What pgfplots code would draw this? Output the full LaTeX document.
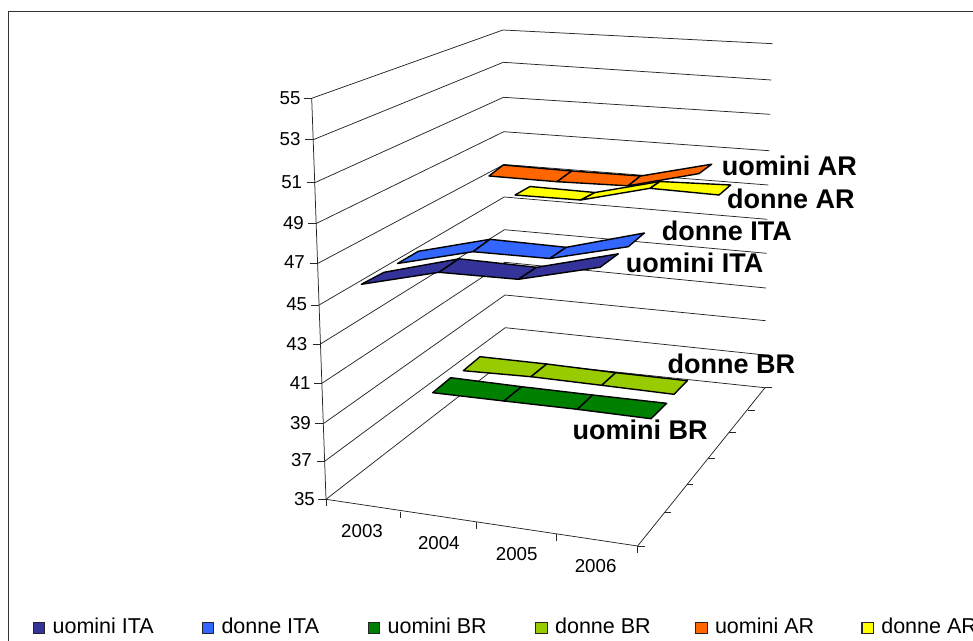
\documentclass[border=0pt]{standalone}
\usepackage{fontspec}
\setmainfont{Liberation Sans}
\usepackage{pgfplots}
\pgfplotsset{compat=1.18}
\definecolor{cnavy}{HTML}{333399}
\definecolor{cblue}{HTML}{3366FF}
\definecolor{cgreen}{HTML}{008000}
\definecolor{clime}{HTML}{99CC00}
\definecolor{corange}{HTML}{FF6600}
\definecolor{cyellow}{HTML}{FFFF00}
\pgfplotsset{
  grid line/.style={black!85, line width=0.75pt, forget plot, mark=none},
  bar seg/.style={fill=#1, draw=black, line width=1.4pt, line join=round, forget plot, mark=none},
  swatch/.style={legend image code/.code={
     \draw[fill=#1, draw=black!85, line width=1.2pt] (0pt,-7pt) rectangle (11.5pt,4.5pt);
     \path[draw=none] (0pt,0pt) -- (19.3pt,0pt);}},
}
\newcommand{\ylab}[3]{\node[anchor=base east, inner sep=0pt, font=\fontsize{18.7}{20}\selectfont] at (axis cs:#1,#2) {#3};}
\newcommand{\xlab}[3]{\node[anchor=base west, inner sep=0pt, font=\fontsize{18.7}{20}\selectfont] at (axis cs:#1,#2) {#3};}
\newcommand{\dlab}[3]{\node[anchor=base west, inner sep=0pt, font=\fontsize{27}{30}\selectfont\bfseries] at (axis cs:#1,#2) {#3};}
\begin{document}
\begin{tikzpicture}
\clip (0pt,0pt) rectangle (973pt,640pt);
\begin{axis}[
  scale only axis, width=973pt, height=640pt,
  xmin=0, xmax=973, ymin=0, ymax=640, y dir=reverse,
  hide axis, clip=false,
  legend columns=6,
  legend cell align=left,
  legend style={at={(axis cs:32.7,635.2)}, anchor=south west, draw=none, fill=none,
    inner sep=0pt, outer sep=0pt, column sep=0pt, row sep=0pt,
    nodes={inner sep=0pt, outer sep=0pt},
    font=\fontsize{21.5}{24}\selectfont},
]
% legend
\addlegendimage{swatch=cnavy}\addlegendentry{\makebox[149pt][l]{uomini ITA}}
\addlegendimage{swatch=cblue}\addlegendentry{\makebox[146.2pt][l]{donne ITA}}
\addlegendimage{swatch=cgreen}\addlegendentry{\makebox[147.6pt][l]{uomini BR}}
\addlegendimage{swatch=clime}\addlegendentry{\makebox[140pt][l]{donne BR}}
\addlegendimage{swatch=corange}\addlegendentry{\makebox[146.4pt][l]{uomini AR}}
\addlegendimage{swatch=cyellow}\addlegendentry{\makebox[100pt][l]{donne AR}}
% chart frame
\addplot[black!80, line width=1pt, forget plot] coordinates {(8.7,650) (8.7,11) (985,11)};
% walls: value levels 55 ... 37
\addplot[grid line] coordinates {(311.7,98.3) (503,30) (772.7,43.7)};
\addplot[grid line] coordinates {(313.2,139.7) (503.3,62.3) (771.3,80)};
\addplot[grid line] coordinates {(314.7,182.7) (503.5,97.3) (770,114.3)};
\addplot[grid line] coordinates {(316.2,223.5) (503.8,131.7) (769.3,150.7)};
\addplot[grid line] coordinates {(317.6,263.5) (504,164.5) (768.3,185)};
\addplot[grid line] coordinates {(319.1,305) (504.2,197) (767.3,219.3)};
\addplot[grid line] coordinates {(320.5,344) (504.5,229.7) (766.7,253.3)};
\addplot[grid line] coordinates {(321.9,383.3) (504.8,262.3) (766,288)};
\addplot[grid line] coordinates {(323.3,423.7) (505,295) (765.7,320.7)};
\addplot[grid line] coordinates {(324.6,461.3) (505.2,327.7) (765,355)};
% floor
\addplot[grid line] coordinates {(326,499.3) (505.4,360.3) (765,387.7) (637.6,546) (326,499.3)};
% value axis with its ticks
\addplot[grid line] coordinates {(311.7,98.3) (326,499.3)};
\addplot[grid line] coordinates {(303.7,98.3) (311.7,98.3)};
\addplot[grid line] coordinates {(305.2,139.7) (313.2,139.7)};
\addplot[grid line] coordinates {(306.7,182.7) (314.7,182.7)};
\addplot[grid line] coordinates {(308.2,223.5) (316.2,223.5)};
\addplot[grid line] coordinates {(309.6,263.5) (317.6,263.5)};
\addplot[grid line] coordinates {(311.1,305) (319.1,305)};
\addplot[grid line] coordinates {(312.5,344) (320.5,344)};
\addplot[grid line] coordinates {(313.9,383.3) (321.9,383.3)};
\addplot[grid line] coordinates {(315.3,423.7) (323.3,423.7)};
\addplot[grid line] coordinates {(316.6,461.3) (324.6,461.3)};
\addplot[grid line] coordinates {(318,499.3) (326,499.3)};
% category ticks
\addplot[grid line] coordinates {(326,499.3) (326,506)};
\addplot[grid line] coordinates {(400.5,511.7) (400.5,518.3)};
\addplot[grid line] coordinates {(476.6,522.3) (476.6,529)};
\addplot[grid line] coordinates {(556.3,534.3) (556.3,540.7)};
\addplot[grid line] coordinates {(637.6,546) (637.6,552.7)};
% series ticks
\addplot[grid line] coordinates {(637.6,546) (644.5,546)};
\addplot[grid line] coordinates {(664,512.7) (670.5,512.7)};
\addplot[grid line] coordinates {(687,484) (693,484)};
\addplot[grid line] coordinates {(707.9,458.3) (714.8,458.3)};
\addplot[grid line] coordinates {(729,432.3) (735.6,432.3)};
\addplot[grid line] coordinates {(747.8,410) (754.6,410)};
\addplot[grid line] coordinates {(765,387.7) (772,387.7)};
% donne AR
\addplot[bar seg=cyellow] coordinates {(515,195) (530,186.5) (595,192.5) (580.7,200)} --cycle;
\addplot[bar seg=cyellow] coordinates {(580.7,200) (595,192.5) (660,181.5) (650,188.3)} --cycle;
\addplot[bar seg=cyellow] coordinates {(650,188.3) (660,181.5) (730.7,185) (719,195)} --cycle;
% uomini AR
\addplot[bar seg=corange] coordinates {(489,176) (503.3,165) (571.7,171) (557,181.7)} --cycle;
\addplot[bar seg=corange] coordinates {(557,181.7) (571.7,171) (640.5,176) (628,185.8)} --cycle;
\addplot[bar seg=corange] coordinates {(628,185.8) (640.5,176) (711.7,164.2) (699,173.6)} --cycle;
% donne BR
\addplot[bar seg=clime] coordinates {(463.3,370.7) (480,356.7) (546.7,364) (531,376.7)} --cycle;
\addplot[bar seg=clime] coordinates {(531,376.7) (546.7,364) (615.7,372.7) (601.7,385.3)} --cycle;
\addplot[bar seg=clime] coordinates {(601.7,385.3) (615.7,372.7) (687.3,380.7) (674,394.3)} --cycle;
% uomini BR
\addplot[bar seg=cgreen] coordinates {(432.7,392.7) (450.7,377.7) (521.7,386.7) (504,401)} --cycle;
\addplot[bar seg=cgreen] coordinates {(504,401) (521.7,386.7) (592.7,395) (577.3,409.3)} --cycle;
\addplot[bar seg=cgreen] coordinates {(577.3,409.3) (592.7,395) (666.7,403.3) (651,418.7)} --cycle;
% donne ITA
\addplot[bar seg=cblue] coordinates {(397.5,263.5) (418.3,251.3) (490,239.3) (473,251.7)} --cycle;
\addplot[bar seg=cblue] coordinates {(473,251.7) (490,239.3) (566.3,247.3) (549.7,258.5)} --cycle;
\addplot[bar seg=cblue] coordinates {(549.7,258.5) (566.3,247.3) (644.3,233) (628.3,246.7)} --cycle;
% uomini ITA
\addplot[bar seg=cnavy] coordinates {(361.3,284.3) (384,272.3) (459,258.8) (439,272.3)} --cycle;
\addplot[bar seg=cnavy] coordinates {(439,272.3) (459,258.8) (536.7,267.3) (518.3,279.3)} --cycle;
\addplot[bar seg=cnavy] coordinates {(518.3,279.3) (536.7,267.3) (618.3,253.8) (600,267.3)} --cycle;
% value labels
\ylab{300.7}{104}{55}
\ylab{300.7}{145}{53}
\ylab{302.3}{188.3}{51}
\ylab{304}{229}{49}
\ylab{305}{268.3}{47}
\ylab{307.3}{310}{45}
\ylab{307.4}{350}{43}
\ylab{310.8}{389.3}{41}
\ylab{311}{429}{39}
\ylab{312}{466.7}{37}
\ylab{315}{505}{35}
% category labels
\xlab{341}{537.3}{2003}
\xlab{417.8}{549.3}{2004}
\xlab{495.7}{560.7}{2005}
\xlab{574.6}{572.7}{2006}
% series labels
\dlab{721.7}{175.7}{uomini AR}
\dlab{727}{208.3}{donne AR}
\dlab{661.7}{240.5}{donne ITA}
\dlab{625.7}{272}{uomini ITA}
\dlab{667.5}{373.8}{donne BR}
\dlab{572.5}{439}{uomini BR}
\end{axis}
\end{tikzpicture}
\end{document}
